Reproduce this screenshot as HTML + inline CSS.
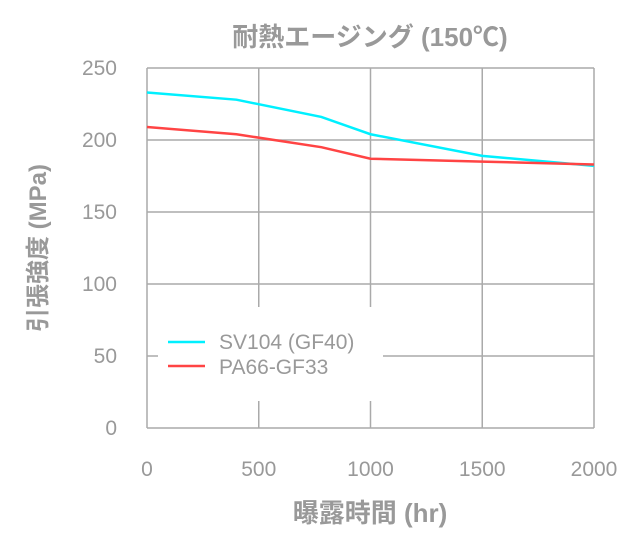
<!DOCTYPE html>
<html><head><meta charset="utf-8"><style>
body{margin:0;background:#fff;}
svg text{font-family:"Liberation Sans","Noto Sans CJK JP",sans-serif;fill:#999;}
</style></head><body>
<svg width="640" height="545" viewBox="0 0 640 545">
<text x="370" y="46" text-anchor="middle" font-size="26" font-weight="bold">耐熱エージング (150℃)</text>
<g id="grid"></g>
<g id="yt"></g><g id="xt"></g>
<text transform="translate(46,248) rotate(-90)" text-anchor="middle" font-size="24" font-weight="bold">引張強度 (MPa)</text>
<text x="370" y="522" text-anchor="middle" font-size="26" font-weight="bold">曝露時間 (hr)</text>
<g id="series"></g>
<rect x="158" y="307" width="225" height="94" fill="#fff"/>
<line x1="168" y1="342" x2="205" y2="342" stroke="#00f0ff" stroke-width="2.5"/>
<text x="219" y="349" font-size="21">SV104 (GF40)</text>
<line x1="168" y1="366" x2="205" y2="366" stroke="#ff4444" stroke-width="2.5"/>
<text x="219" y="374" font-size="21">PA66-GF33</text>
</svg>
<script>
const xTicks=[0,500,1000,1500,2000];
const yTicks=[0,50,100,150,200,250];
const xs=[0,400,780,1000,1500,2000];
const sv104=[233,228,216,204,189,182];
const pa66=[209,204,195,187,185,183];
const X=v=>147+v/2000*447, Y=v=>428-v*1.44;
const NS="http://www.w3.org/2000/svg";
function mk(t,a,p){const e=document.createElementNS(NS,t);for(const k in a)e.setAttribute(k,a[k]);p.appendChild(e);return e;}
const g=document.getElementById('grid'),yt=document.getElementById('yt'),xt=document.getElementById('xt'),s=document.getElementById('series');
yTicks.forEach(v=>{const l=mk('line',{x1:147,x2:594,y1:Y(v),y2:Y(v),stroke:'#aaa','stroke-width':1.5},g);


const t=mk('text',{x:117,y:Y(v)+7,'text-anchor':'end','font-size':21},yt);t.textContent=v;

});
xTicks.forEach(v=>{const l=mk('line',{x1:X(v),x2:X(v),y1:68,y2:428,stroke:'#aaa','stroke-width':1.5},g);


const t=mk('text',{x:X(v),y:476,'text-anchor':'middle','font-size':21},xt);t.textContent=v;

});
[[sv104,'#00f0ff','line-sv104'],[pa66,'#ff4444','line-pa66']].forEach(([d,c,n])=>{
const p=mk('polyline',{points:xs.map((x,i)=>X(x)+','+Y(d[i])).join(' '),fill:'none',stroke:c,'stroke-width':2.5},s);

});
</script>
</body></html>
